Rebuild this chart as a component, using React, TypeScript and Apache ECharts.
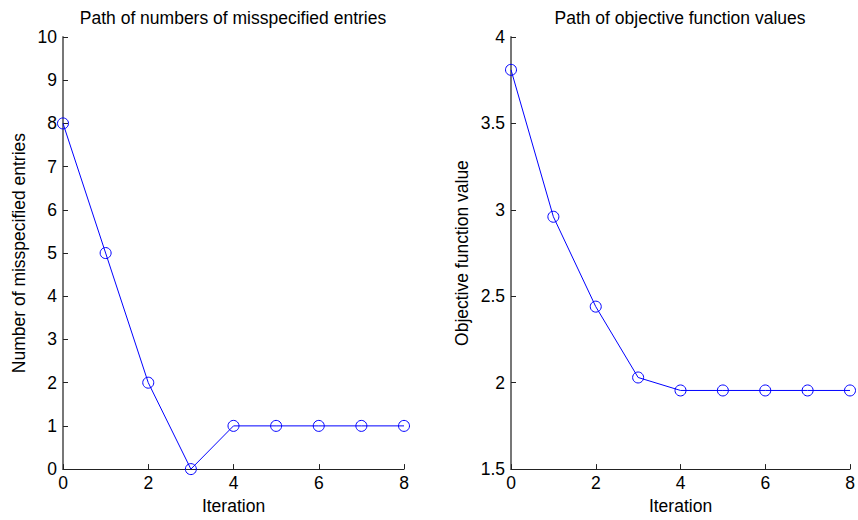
import React, { useEffect, useRef } from "react";
import * as echarts from "echarts";

const iterations = [0, 1, 2, 3, 4, 5, 6, 7, 8];
const misspecified = [8, 5, 2, 0, 1, 1, 1, 1, 1];
const objective = [3.81, 2.96, 2.44, 2.03, 1.955, 1.955, 1.955, 1.955, 1.955];
const titles = ["Path of numbers of misspecified entries", "Path of objective function values"];
const yNames = ["Number of misspecified entries", "Objective function value"];
const xName = "Iteration";

const FONT = "'Liberation Sans', Arial, sans-serif";
const FS = 17.5;

export default function App() {
  const ref = useRef<HTMLDivElement>(null);
  useEffect(() => {
    if (!ref.current) return;
    const chart = echarts.init(ref.current, null, { renderer: "svg" });
    const grids = [
      { left: 63, right: 454, top: 37, bottom: 48 },
      { left: 511, right: 8, top: 37, bottom: 48 },
    ];
    const xAxisCommon = (gridIndex: number) => ({
      type: "value",
      gridIndex,
      min: 0,
      max: 8,
      interval: 2,
      name: xName,
      nameLocation: "middle",
      nameGap: 25,
      nameTextStyle: { color: "#000", fontSize: FS, fontFamily: FONT },
      axisLine: { show: true, lineStyle: { color: "#222", width: 1 } },
      axisTick: { show: true, inside: true, length: 5, lineStyle: { color: "#222" } },
      axisLabel: { color: "#000", fontSize: FS, fontFamily: FONT, margin: 5 },
      splitLine: { show: false },
    });
    const yAxisCommon = (gridIndex: number, min: number, max: number, interval: number, nameGap: number) => ({
      type: "value",
      gridIndex,
      min,
      max,
      interval,
      name: yNames[gridIndex],
      nameLocation: "middle",
      nameGap,
      nameRotate: 90,
      nameTextStyle: { color: "#000", fontSize: FS, fontFamily: FONT },
      axisLine: { show: true, lineStyle: { color: "#777", width: 2 } },
      axisTick: { show: true, inside: true, length: 5, lineStyle: { color: "#222" } },
      axisLabel: { color: "#000", fontSize: FS, fontFamily: FONT, margin: 6 },
      splitLine: { show: false },
    });
    const seriesCommon = {
      type: "line",
      symbol: "circle",
      symbolSize: 11,
      lineStyle: { color: "#0000ff", width: 1 },
      itemStyle: { color: "none", borderColor: "#0000ff", borderWidth: 1 },
      emphasis: { disabled: true },
    };
    const titleStyle = (text: string, x: number) => ({
      type: "text",
      x,
      y: 18,
      silent: true,
      style: {
        text,
        fill: "#000",
        font: `normal ${FS}px ${FONT}`,
        textAlign: "center",
        textVerticalAlign: "middle",
        align: "center",
        verticalAlign: "middle",
      },
    });
    chart.setOption({
      animation: false,
      backgroundColor: "#fff",
      graphic: [titleStyle(titles[0], 233), titleStyle(titles[1], 680)],
      grid: grids,
      xAxis: [xAxisCommon(0), xAxisCommon(1)],
      yAxis: [yAxisCommon(0, 0, 10, 1, 35), yAxisCommon(1, 1.5, 4, 0.5, 40)],
      series: [
        {
          ...seriesCommon,
          xAxisIndex: 0,
          yAxisIndex: 0,
          data: iterations.map((x, i) => [x, misspecified[i]]),
        },
        {
          ...seriesCommon,
          xAxisIndex: 1,
          yAxisIndex: 1,
          data: iterations.map((x, i) => [x, objective[i]]),
        },
      ],
    });
    return () => chart.dispose();
  }, []);
  return <div ref={ref} style={{ width: 858, height: 520, position: "absolute", left: 0, top: 0 }} />;
}
